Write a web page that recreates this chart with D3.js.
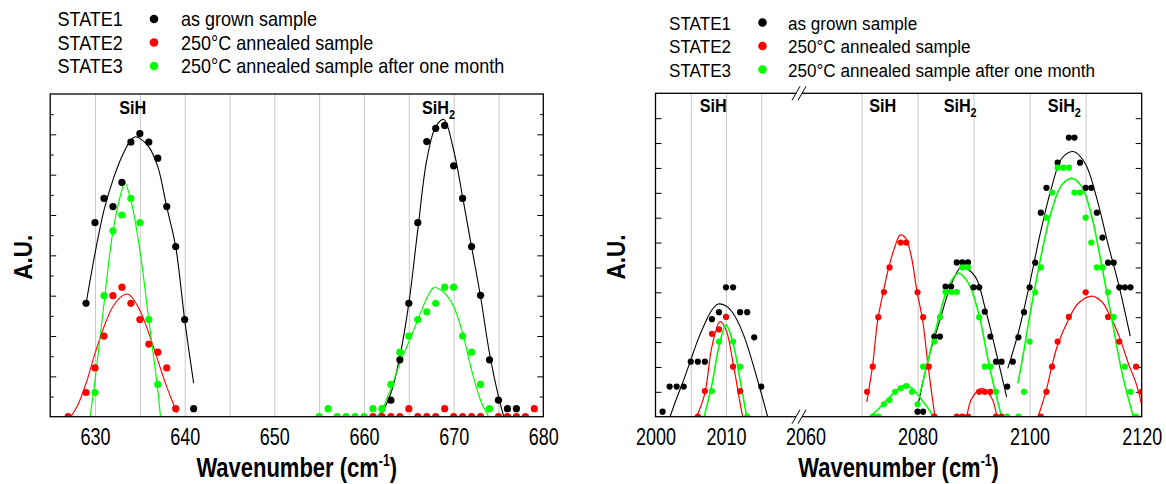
<!DOCTYPE html>
<html>
<head>
<meta charset="utf-8">
<style>
  body { margin: 0; background: #fff; }
  svg text { font-family: 'Liberation Sans', Arial, sans-serif; fill: #000; }
  .legend-left { font-size: 20px; }
  .legend-right { font-size: 19px; }
  .tick text { font-size: 20px; font-family: 'Liberation Sans', Arial, sans-serif; }
  .axis-title { font-size: 25px; font-weight: bold; }
  .peak { font-size: 18px; font-weight: bold; }
  .grid line { stroke: #c8c8c8; stroke-width: 1; }
  .grid path, .yt path, .xl path { display: none; }
  .yt line { stroke: #000; stroke-width: 1; }
</style>
</head>
<body>
<svg id="chart" width="1166" height="484"></svg>
<script src="https://cdn.jsdelivr.net/npm/d3@7"></script>
<script>

// ---- legend ----
const legendStates = ["STATE1", "STATE2", "STATE3"];
const legendLabels = ["as grown sample", "250\u00b0C annealed sample", "250\u00b0C annealed sample after one month"];
const seriesColors = ["#000000", "#ff0000", "#00ff00"];

// ---- left panel (625 - 680 cm-1) ----
const leftXTicks = [630, 640, 650, 660, 670, 680];
const leftGrid = [630, 635, 640, 645, 650, 655, 660, 665, 670, 675];
const leftYMajor = [1, 2, 3, 4, 5, 6, 7];
const leftYMinor = [0.5, 1.5, 2.5, 3.5, 4.5, 5.5, 6.5, 7.5];
const leftPeaks = [["SiH", "", 634.2], ["SiH", "2", 668.3]];

const leftBlack = [[629,2.81],[630,4.81],[631,5.41],[632,5.21],[633,5.81],[634,6.81],[635,7.02],[636,6.81],[637,6.41],[638,5.21],[639,4.22],[640,2.41],[641,0.2],
  [663,0.41],[664,1.41],[665,2.81],[666,4.81],[667,6.82],[668,7.15],[669,7.22],[670,6.22],[671,5.41],[672,4.22],[673,3.01],[674,1.41],[675,0.41],[676,0.2],[677,0.2]];
const leftRed = [[627,0],[629,0.6],[630,1.21],[631,2.0],[632,3.0],[633,3.21],[634,2.81],[635,2.41],[636,1.8],[637,1.6],[638,1.21],[639,0.2],
  [661,0],[662,0],[663,0],[664,0],[665,0.2],[666,0],[667,0],[668,0],[669,0.2],[670,0],[671,0],[672,0],[673,0],[675,0],[676,0],[677,0],[678,0],[679,0.2]];
const leftGreen = [[630,0.6],[631,3.0],[632,4.61],[633,5.0],[634,5.41],[635,4.81],[636,2.41],[637,0.8],
  [655,0],[656,0.2],[657,0],[658,0],[659,0],[660,0],[661,0.2],[662,0.2],[663,0.8],[664,1.6],[665,2.0],[666,2.41],[667,2.6],[668,2.81],[669,3.21],[670,3.21],[671,2.0],[672,1.6],[673,0.8],[674,0.2]];

const leftBlackFits = [
  [[629,2.8],[630,4.05],[631,5.12],[632,5.87],[633,6.45],[634,6.86],[634.5,6.94],[635,6.9],[636,6.69],[637,6.2],[638,5.2],[639,4.21],[640,2.4],[641,0.83]],
  [[661.8,0],[663,0.58],[664,1.49],[665,2.81],[666,4.63],[667,6.36],[668,7.19],[668.9,7.37],[670,6.61],[671,5.45],[672,4.21],[673,2.98],[674,1.57],[675,0.5],[675.6,0]]
];
const leftRedFits = [
  [[627.3,0],[628,0.25],[629,0.83],[630,1.57],[631,2.23],[632,2.73],[633,2.99],[633.6,3.04],[634,2.99],[635,2.64],[636,2.07],[637,1.4],[638,0.74],[639,0.17],[639.1,0.1]]
];
const leftGreenFits = [
  [[629.45,0],[630,0.9],[631,2.8],[632,4.6],[633,5.62],[633.3,5.81],[634,5.37],[635,4.13],[636,2.4],[637,0.66],[637.3,0]],
  [[661.4,0],[662,0.17],[663,0.7],[664,1.32],[665,1.85],[666,2.4],[667,2.93],[667.8,3.2],[669,3.06],[670,2.73],[671,2.07],[672,1.16],[673,0.41],[673.9,0]]
];

// ---- right panel (2000 - 2020 // 2060 - 2120 cm-1) ----
const rightXDomain = [2000, 2020.35, 2058.85, 2120];
const rightXTicks = [2000, 2010, 2060, 2080, 2100, 2120];
const rightGrid = [2005, 2010, 2015, 2070, 2080, 2090, 2100, 2110];
const rightYTicks = [1, 2, 3, 4, 5, 6, 7, 8, 9, 10, 11, 12];
const rightPeaks = [["SiH", "", 2008.2], ["SiH", "", 2073.8], ["SiH", "2", 2087.6], ["SiH", "2", 2106.2]];

const rightBlack = [[2001,0.2],[2002,1.21],[2003,1.21],[2004,1.21],[2005,2.21],[2006,2.21],[2007,2.21],[2008,3.92],[2009,4.2],[2010,5.2],[2011,5.2],[2012,4.2],[2013,4.2],[2014,3.19],[2015,1.21],
  [2080,0.2],[2081,0.2],[2083,3.22],[2084,3.22],[2085,5.23],[2086,5.23],[2087,6.2],[2088,6.2],[2089,6.2],[2090,5.2],[2091,5.2],[2092,4.22],[2093,3.22],[2094,2.21],[2095,2.21],
  [2096,1.21],[2097,2.21],[2098,3.19],[2099,4.2],[2100,5.2],[2101,6.19],[2102,8.2],[2103,9.2],[2105,10.21],[2107,11.22],[2108,11.22],[2109,10.21],[2110,9.2],[2111,9.2],[2112,8.2],[2113,7.2],[2114,6.19],[2115,6.19],[2116,5.2],[2117,5.2],[2118,5.2]];
const rightRed = [[2006,0],[2007,1.03],[2008,3.33],[2009,3.51],[2010,4.01],[2011,2.01],[2012,1.03],
  [2071,1.0],[2072,2.01],[2073,4.0],[2074,5.01],[2075,6.0],[2077,7.0],[2078,7.0],[2080,5.0],[2081,4.0],[2082,2.01],[2083,0],
  [2087,0],[2088,0],[2089,0],[2091,1.0],[2092,1.0],[2093,1.0],[2094,0],[2095,0],
  [2102,0],[2103,1.0],[2104,2.01],[2105,3.02],[2107,4.01],[2110,5.0],[2114,4.01],[2116,3.02],[2119,2.01],[2120,1.0]];
const rightGreen = [[2008,1.03],[2009,3.02],[2011,3.02],[2012,2.01],[2013,0],
  [2072,0],[2073,0],[2074,0.5],[2075,0.67],[2076,1.0],[2077,1.14],[2078,1.23],[2079,1.0],[2080,0.5],
  [2081,2.01],[2083,3.02],[2084,4.0],[2085,5.01],[2086,5.01],[2087,5.01],[2088,6.0],[2089,6.0],[2091,4.0],[2092,2.01],[2093,2.01],[2094,1.0],
  [2096,0],[2098,0],[2099,1.0],[2100,3.02],[2101,5.0],[2102,6.0],[2103,8.0],[2104,9.01],[2105,10.01],[2106,10.01],[2107,10.01],[2108,9.01],[2109,9.01],[2110,8.0],[2111,7.0],[2112,6.0],[2113,6.0],[2114,5.0],[2115,4.01],[2117,2.01],[2118,1.0],[2119,0]];

const rightBlackFits = [
  [[2002.06,0],[2003,0.74],[2004,1.48],[2005,2.28],[2006,3.08],[2007,3.75],[2008,4.29],[2008.9,4.53],[2010,4.45],[2011,4.16],[2012,3.62],[2013,2.88],[2014,1.94],[2015,0.94],[2015.9,0]],
  [[2080.15,0.54],[2081.9,2.28],[2084,3.89],[2086.1,5.36],[2087.9,6.03],[2090.3,5.63],[2092,4.42],[2093.8,2.8],[2095.9,0.8]],
  [[2096.1,1.94],[2097.95,3.35],[2099.9,5.23],[2101.9,7.37],[2103.96,9.25],[2105.75,10.39],[2107.8,10.66],[2109.9,10.19],[2111.9,8.85],[2113.96,6.97],[2115.98,5.23],[2117.95,3.24]]
];
const rightRedFits = [
  [[2005.84,0],[2007,0.94],[2008,2.82],[2009.15,3.82],[2010,3.49],[2011,2.15],[2012,0.54],[2012.37,0]],
  [[2070.95,0.6],[2071.96,2.01],[2072.9,3.89],[2073.96,5.09],[2074.9,6.03],[2075.98,6.84],[2076.9,7.3],[2077.9,7.17],[2078.9,6.43],[2079.86,5.09],[2080.9,3.89],[2081.9,2.01],[2083.1,0]],
  [[2088.8,0],[2089.7,0.74],[2091.5,1.14],[2093.25,0.74],[2094.15,0]],
  [[2101.5,0],[2102.9,1.0],[2103.96,2.01],[2104.9,2.81],[2106.9,3.89],[2108.7,4.56],[2111.1,4.85],[2112.9,4.62],[2114,4.22],[2116,3.22],[2117.6,2.15],[2119,1.34],[2120,0.47]]
];
const rightGreenFits = [
  [[2006.9,0],[2008,1.3],[2009,2.82],[2010,3.69],[2011,2.95],[2012,1.48],[2012.93,0]],
  [[2071.5,0],[2073,0.3],[2074,0.55],[2075,0.78],[2076,1.0],[2077,1.2],[2077.8,1.27],[2079,1.15],[2080,0.9],[2081,0.6],[2082,0.3],[2082.8,0]],
  [[2080.45,0.94],[2081.9,2.28],[2083.7,3.89],[2085.5,5.23],[2087.3,5.77],[2089.1,5.36],[2090.9,4.16],[2092.6,2.28],[2093.8,1.07],[2095,0]],
  [[2097.9,1.34],[2098.9,2.55],[2099.9,3.89],[2101.9,6.3],[2103.96,8.31],[2105.75,9.32],[2107.5,9.58],[2109.3,9.25],[2111.1,8.04],[2112.9,6.03],[2114.7,3.89],[2116.5,1.75],[2118.5,0]]
];

const svg = d3.select("#chart");
const sx = 0.9; // the original lettering is a little narrow

function squeezed(g, x, y, cls, anchor, kx = sx, ky = 1) {
  return g.append("text")
    .attr("class", cls)
    .attr("text-anchor", anchor)
    .attr("transform", `translate(${x},${y}) scale(${kx},${ky})`);
}

function drawPanel(p) {
  const g = svg.append("g");
  const x = p.x, y = p.y;
  const [x0, x1] = [x.range()[0], x.range()[x.range().length - 1]];
  const [yb, yt] = y.range();

  const clipId = "clip" + p.id;
  svg.append("clipPath").attr("id", clipId)
    .append("rect").attr("x", x0).attr("y", yt).attr("width", x1 - x0).attr("height", yb - yt);

  // grid lines
  g.append("g").attr("class", "grid")
    .attr("transform", `translate(0,${yb})`)
    .call(d3.axisBottom(x).tickValues(p.grid).tickSize(-(yb - yt)).tickFormat(""));

  // y ticks (inward, both sides)
  p.yTicks.forEach(([vals, len]) => {
    g.append("g").attr("class", "yt").attr("transform", `translate(${x0},0)`)
      .call(d3.axisLeft(y).tickValues(vals).tickSize(-len).tickFormat(""));
    g.append("g").attr("class", "yt").attr("transform", `translate(${x1},0)`)
      .call(d3.axisRight(y).tickValues(vals).tickSize(-len).tickFormat(""));
  });

  // x tick labels (taller, narrower digits as in the original)
  g.append("g").attr("class", "xl").attr("transform", `translate(0,${yb})`)
    .call(d3.axisBottom(x).tickValues(p.xTicks).tickSize(0).tickPadding(10).tickFormat(d3.format("d")))
    .selectAll("text").attr("transform", "scale(0.9,1.17)");

  const plot = g.append("g").attr("clip-path", `url(#${clipId})`);
  const line = d3.line().x(d => x(d[0])).y(d => y(d[1])).curve(d3.curveCatmullRom.alpha(0.5));

  p.fits.forEach((fits, i) => {
    plot.append("g").selectAll("path").data(fits).join("path")
      .attr("d", line)
      .attr("fill", "none")
      .attr("stroke", seriesColors[i])
      .attr("stroke-width", p.lineW[i]);
  });
  p.dots.forEach((pts, i) => {
    plot.append("g").selectAll("circle").data(pts).join("circle")
      .attr("cx", d => x(d[0]))
      .attr("cy", d => y(d[1]))
      .attr("r", p.r)
      .attr("fill", seriesColors[i]);
  });

  // frame
  g.append("rect").attr("x", x0).attr("y", yt).attr("width", x1 - x0).attr("height", yb - yt)
    .attr("fill", "none").attr("stroke", "#000").attr("stroke-width", 1.3);

  // peak labels
  p.peaks.forEach(([t, sub, wn]) => {
    const txt = squeezed(g, x(wn), p.peakY, "peak", "middle");
    txt.append("tspan").text(t);
    if (sub) txt.append("tspan").attr("dy", 5).style("font-size", "12px").text(sub);
  });

  // axis titles
  const tt = squeezed(g, (x0 + x1) / 2, 477, "axis-title", "middle", 0.88, 1.12);
  tt.append("tspan").text("Wavenumber (cm");
  tt.append("tspan").attr("dy", -10).style("font-size", "14px").text("-1");
  tt.append("tspan").attr("dy", 10).text(")");

  g.append("text").attr("class", "axis-title").attr("text-anchor", "middle")
    .attr("transform", `translate(${p.auX},${(yt + yb) / 2 + 2}) rotate(-90) scale(${sx},1)`)
    .text("A.U.");

  // legend
  legendStates.forEach((s, i) => {
    const by = p.legY + i * 23.5;
    squeezed(g, p.legX, by, p.legCls, "start").text(s);
    g.append("circle").attr("cx", p.legDot).attr("cy", by - 7).attr("r", 4.3).attr("fill", seriesColors[i]);
    squeezed(g, p.legText, by, p.legCls, "start").text(legendLabels[i]);
  });
  return g;
}

// left panel
const xL = d3.scaleLinear().domain([625, 680]).range([50.2, 543.3]);
const yL = d3.scaleLinear().domain([0, 8]).range([416.7, 94]);
drawPanel({
  id: "L", x: xL, y: yL, grid: leftGrid, xTicks: leftXTicks,
  yTicks: [[leftYMajor, 6], [leftYMinor, 3.5]],
  fits: [leftBlackFits, leftRedFits, leftGreenFits],
  dots: [leftBlack, leftRed, leftGreen], lineW: [1.1, 1.1, 1.2], r: 3.6,
  peaks: leftPeaks, peakY: 114, auX: 32,
  legX: 57.5, legDot: 154, legText: 181, legY: 26, legCls: "legend-left"
});

// right panel, broken x axis
const xR = d3.scaleLinear().domain(rightXDomain).range([655.5, 799, 799, 1141.7]);
const yR = d3.scaleLinear().domain([0, 13]).range([416.7, 93.3]);
drawPanel({
  id: "R", x: xR, y: yR, grid: rightGrid, xTicks: rightXTicks,
  yTicks: [[rightYTicks, 6]],
  fits: [rightBlackFits, rightRedFits, rightGreenFits],
  dots: [rightBlack, rightRed, rightGreen], lineW: [1.1, 1.2, 1.6], r: 3.1,
  peaks: rightPeaks, peakY: 112, auX: 625,
  legX: 669, legDot: 762.5, legText: 788, legY: 29.5, legCls: "legend-right"
});

// axis break marks
const bx = xR(2020.35);
[yR(13), yR(0)].forEach(by => {
  svg.append("rect").attr("x", bx - 3).attr("y", by - 2).attr("width", 6).attr("height", 4).attr("fill", "#fff");
  [-3, 3].forEach(o => {
    svg.append("line")
      .attr("x1", bx + o - 4).attr("y1", by + 7)
      .attr("x2", bx + o + 4).attr("y2", by - 7)
      .attr("stroke", "#000").attr("stroke-width", 1);
  });
});
</script>
</body>
</html>
